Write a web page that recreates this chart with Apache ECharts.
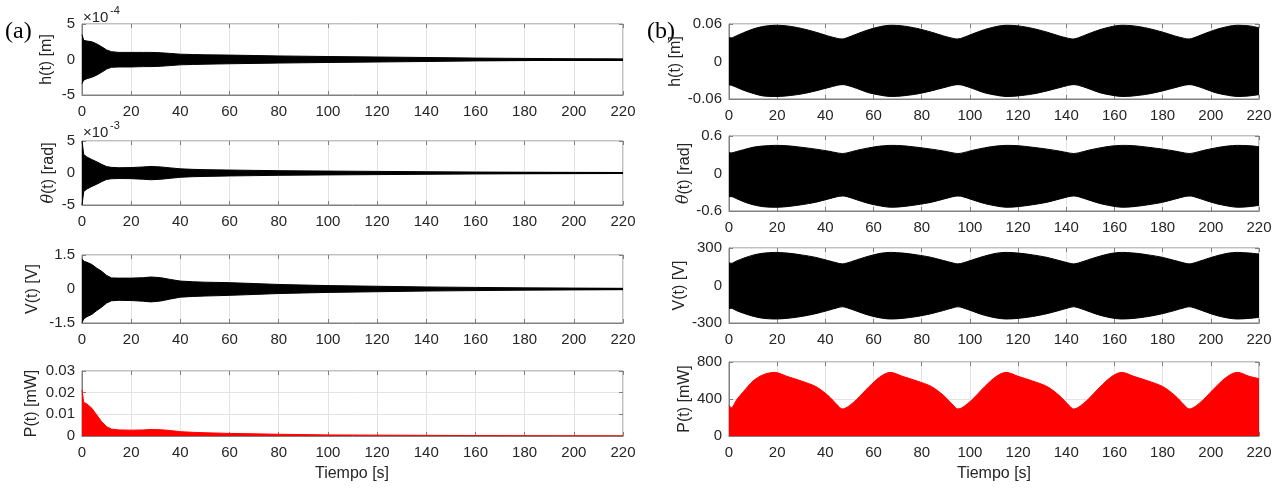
<!DOCTYPE html>
<html>
<head>
<meta charset="utf-8">
<title>Respuesta temporal (a) y (b)</title>
<script src="https://cdn.jsdelivr.net/npm/echarts@6/dist/echarts.min.js"></script>
<style>
    html, body { margin: 0; padding: 0; background: #fff; }
    #chart { width: 1286px; height: 488px; }
</style>
</head>
<body>
<div id="chart"></div>
<script>
// ticks del eje de tiempo [s]
const xTicks = [0, 20, 40, 60, 80, 100, 120, 140, 160, 180, 200, 220]

// ticks de cada eje y
const hTicksA = [-5, 0, 5]          // x1e-4 m
const thTicksA = [-5, 0, 5]         // x1e-3 rad
const vTicksA = [-1.5, 0, 1.5]
const pTicksA = [0, 0.01, 0.02, 0.03]
const hTicksB = [-0.06, 0, 0.06]
const thTicksB = [-0.6, 0, 0.6]
const vTicksB = [-300, 0, 300]
const pTicksB = [0, 400, 800]

// (a) envolventes
const tA = [0, 0.4, 0.7, 1, 2, 4, 6, 8, 10, 12, 15, 20, 25, 28, 32, 36, 40, 45, 50, 60, 70, 80, 100, 120, 140, 160, 180, 200, 220]
const hUpA = [3.5, 3.4, 2.7, 2.65, 2.6, 2.5, 2.2, 1.8, 1.35, 1.1, 1.0, 1.0, 1.0, 1.0, 0.95, 0.85, 0.75, 0.7, 0.66, 0.62, 0.56, 0.5, 0.42, 0.35, 0.28, 0.2, 0.15, 0.11, 0.09]
const hLoA = [-3.4, -3.3, -2.9, -2.8, -2.7, -2.5, -2.2, -1.8, -1.35, -1.1, -1.05, -1.05, -1.0, -1.0, -0.95, -0.85, -0.75, -0.7, -0.66, -0.6, -0.55, -0.5, -0.42, -0.35, -0.28, -0.2, -0.15, -0.11, -0.09]
const thUpA = [5.0, 4.8, 2.9, 2.7, 2.5, 2.1, 1.75, 1.35, 1.0, 0.88, 0.82, 0.85, 0.95, 1.02, 0.95, 0.8, 0.65, 0.57, 0.52, 0.46, 0.41, 0.36, 0.3, 0.25, 0.2, 0.15, 0.12, 0.1, 0.08]
const thLoA = [-5.0, -4.8, -2.9, -2.7, -2.5, -2.1, -1.75, -1.35, -1.0, -0.9, -0.86, -0.88, -0.98, -1.05, -0.98, -0.82, -0.67, -0.58, -0.53, -0.46, -0.41, -0.36, -0.3, -0.25, -0.2, -0.15, -0.12, -0.1, -0.08]
const vUpA = [1.32, 1.3, 1.25, 1.21, 1.18, 1.08, 0.92, 0.78, 0.6, 0.49, 0.48, 0.48, 0.5, 0.53, 0.5, 0.42, 0.35, 0.32, 0.3, 0.28, 0.24, 0.2, 0.15, 0.12, 0.09, 0.07, 0.05, 0.04, 0.03]
const vLoA = [-1.49, -1.45, -1.32, -1.28, -1.22, -1.12, -0.95, -0.8, -0.62, -0.52, -0.5, -0.51, -0.54, -0.57, -0.53, -0.44, -0.36, -0.33, -0.31, -0.28, -0.24, -0.2, -0.15, -0.12, -0.09, -0.07, -0.05, -0.04, -0.03]
const pA = [0.0212, 0.021, 0.0155, 0.015, 0.0148, 0.0128, 0.0097, 0.0066, 0.0043, 0.0032, 0.0028, 0.0027, 0.0028, 0.003, 0.0029, 0.0025, 0.002, 0.0017, 0.0015, 0.0012, 0.001, 0.0008, 0.0005, 0.0004, 0.0003, 0.0002, 0.00015, 0.0001, 0.0001]

// (b) envolventes
const tB = [0, 1, 3, 6, 10, 14,
    19, 24, 30, 36, 41, 45, 47, 49, 53, 58, 63,
    67, 72, 78, 84, 89, 93, 95, 97, 101, 106, 111,
    115, 120, 126, 132, 137, 141, 143, 145, 149, 154, 159,
    163, 168, 174, 180, 185, 189, 191, 193, 197, 202, 207,
    211, 216, 220]
const hUpB = [0.038, 0.038, 0.041, 0.046, 0.052, 0.056,
    0.058, 0.057, 0.053, 0.047, 0.041, 0.037, 0.036, 0.038, 0.044, 0.051, 0.056,
    0.058, 0.057, 0.053, 0.047, 0.041, 0.037, 0.036, 0.038, 0.044, 0.051, 0.056,
    0.058, 0.057, 0.053, 0.047, 0.041, 0.037, 0.036, 0.038, 0.044, 0.051, 0.056,
    0.058, 0.057, 0.053, 0.047, 0.041, 0.037, 0.036, 0.038, 0.044, 0.051, 0.056,
    0.058, 0.057, 0.054]
const hLoB = [-0.0375, -0.038, -0.041, -0.046, -0.051, -0.055,
    -0.056, -0.055, -0.052, -0.047, -0.042, -0.038, -0.037, -0.038, -0.043, -0.05, -0.054,
    -0.056, -0.055, -0.052, -0.047, -0.042, -0.038, -0.037, -0.038, -0.043, -0.05, -0.054,
    -0.056, -0.055, -0.052, -0.047, -0.042, -0.038, -0.037, -0.038, -0.043, -0.05, -0.054,
    -0.056, -0.055, -0.052, -0.047, -0.042, -0.038, -0.037, -0.038, -0.043, -0.05, -0.054,
    -0.056, -0.055, -0.053]
const thUpB = [0.335, 0.33, 0.35, 0.38, 0.42, 0.44,
    0.45, 0.445, 0.42, 0.39, 0.36, 0.33, 0.32, 0.33, 0.37, 0.41, 0.44,
    0.45, 0.445, 0.42, 0.39, 0.36, 0.33, 0.32, 0.33, 0.37, 0.41, 0.44,
    0.45, 0.445, 0.42, 0.39, 0.36, 0.33, 0.32, 0.33, 0.37, 0.41, 0.44,
    0.45, 0.445, 0.42, 0.39, 0.36, 0.33, 0.32, 0.33, 0.37, 0.41, 0.44,
    0.45, 0.445, 0.43]
const thLoB = [-0.37, -0.37, -0.4, -0.45, -0.5, -0.53,
    -0.54, -0.53, -0.5, -0.46, -0.41, -0.37, -0.36, -0.37, -0.42, -0.48, -0.52,
    -0.54, -0.53, -0.5, -0.46, -0.41, -0.37, -0.36, -0.37, -0.42, -0.48, -0.52,
    -0.54, -0.53, -0.5, -0.46, -0.41, -0.37, -0.36, -0.37, -0.42, -0.48, -0.52,
    -0.54, -0.53, -0.5, -0.46, -0.41, -0.37, -0.36, -0.37, -0.42, -0.48, -0.52,
    -0.54, -0.53, -0.51]
const vUpB = [180, 178, 195, 218, 243, 258,
    265, 260, 245, 225, 200, 180, 173, 180, 205, 235, 258,
    265, 260, 245, 225, 200, 180, 173, 180, 205, 235, 258,
    265, 260, 245, 225, 200, 180, 173, 180, 205, 235, 258,
    265, 260, 245, 225, 200, 180, 173, 180, 205, 235, 258,
    265, 260, 252]
const vLoB = [-185, -183, -200, -222, -246, -262,
    -268, -263, -248, -225, -200, -178, -170, -178, -205, -238, -260,
    -268, -263, -248, -225, -200, -178, -170, -178, -205, -238, -260,
    -268, -263, -248, -225, -200, -178, -170, -178, -205, -238, -260,
    -268, -263, -248, -225, -200, -178, -170, -178, -205, -238, -260,
    -268, -263, -255]
const pB = [330, 305, 385, 480, 595, 660,
    688, 645, 595, 535, 440, 335, 292, 310, 395, 530, 645,
    688, 645, 595, 535, 440, 335, 292, 310, 395, 530, 645,
    688, 645, 595, 535, 440, 335, 292, 310, 395, 530, 645,
    688, 645, 595, 535, 440, 335, 292, 310, 395, 530, 645,
    688, 645, 620]

const FONT = 'Liberation Sans, Arial, sans-serif'
const LINE = '#808080'
const TXT = '#262626'
const GRIDC = '#e3e3e3'

// posicion de cada panel en la pagina
const panels = [
    { left: 82, top: 24, width: 541, height: 71, ticks: hTicksA, name: 'h(t) [m]', gap: 27 },
    { left: 82, top: 141, width: 541, height: 64, ticks: thTicksA, name: '{it|θ}(t) [rad]', gap: 25 },
    { left: 82, top: 255, width: 541, height: 68, ticks: vTicksA, name: 'V(t) [V]', gap: 41 },
    { left: 82, top: 371, width: 541, height: 65, ticks: pTicksA, name: 'P(t) [mW]', gap: 42 },
    { left: 729, top: 24, width: 530, height: 75, ticks: hTicksB, name: 'h(t) [m]', gap: 39 },
    { left: 729, top: 136, width: 530, height: 75, ticks: thTicksB, name: '{it|θ}(t) [rad]', gap: 32 },
    { left: 729, top: 248, width: 530, height: 75, ticks: vTicksB, name: 'V(t) [V]', gap: 39 },
    { left: 729, top: 362, width: 530, height: 74, ticks: pTicksB, name: 'P(t) [mW]', gap: 36 }
]

let grid = []
let xAxis = []
let yAxis = []
let series = []

panels.forEach((p, i) => {
    grid.push({ left: p.left, top: p.top, width: p.width, height: p.height,
        show: true, borderColor: LINE, borderWidth: 1, backgroundColor: 'transparent' })
    let tickStep = p.ticks[1] - p.ticks[0]
    let yMin = p.ticks[0]
    let yMax = p.ticks[p.ticks.length - 1]
    // eje inferior con etiquetas
    xAxis.push({
        type: 'value', gridIndex: i, min: xTicks[0], max: xTicks[xTicks.length - 1],
        interval: xTicks[1] - xTicks[0],
        axisLine: { show: true, onZero: false, lineStyle: { color: LINE } },
        axisTick: { show: true, inside: true, length: 4, lineStyle: { color: LINE } },
        axisLabel: { color: TXT, fontSize: 15, fontFamily: FONT, margin: 9 },
        splitLine: { show: true, lineStyle: { color: GRIDC, width: 1 } }
    })
    // eje superior, solo marcas
    xAxis.push({
        type: 'value', gridIndex: i, position: 'top', min: xTicks[0], max: xTicks[xTicks.length - 1],
        interval: xTicks[1] - xTicks[0],
        axisLine: { show: false, onZero: false },
        axisTick: { show: true, inside: true, length: 4, lineStyle: { color: LINE } },
        axisLabel: { show: false }, splitLine: { show: false }
    })
    yAxis.push({
        type: 'value', gridIndex: i, min: yMin, max: yMax, interval: tickStep,
        name: p.name, nameLocation: 'middle', nameRotate: 90, nameGap: p.gap,
        nameTextStyle: { color: TXT, fontSize: 16, fontFamily: FONT,
            rich: { it: { fontStyle: 'italic', fontSize: 16, fontFamily: 'DejaVu Serif', color: TXT } } },
        axisLine: { show: true, onZero: false, lineStyle: { color: LINE } },
        axisTick: { show: true, inside: true, length: 4, lineStyle: { color: LINE } },
        axisLabel: { color: TXT, fontSize: 15, fontFamily: FONT, margin: 7 },
        splitLine: { show: true, lineStyle: { color: GRIDC, width: 1 } }
    })
    // eje derecho, solo marcas
    yAxis.push({
        type: 'value', gridIndex: i, position: 'right', min: yMin, max: yMax, interval: tickStep,
        axisLine: { show: false, onZero: false },
        axisTick: { show: true, inside: true, length: 4, lineStyle: { color: LINE } },
        axisLabel: { show: false }, splitLine: { show: false }
    })
})

// banda negra: envolvente superior e inferior rellenas hasta 0
function band (i, t, up, lo, smooth) {
    let base = {
        type: 'line', xAxisIndex: 2 * i, yAxisIndex: 2 * i,
        showSymbol: false, symbol: 'none', silent: true, smooth: smooth,
        lineStyle: { color: '#000', width: 1 }, z: 3
    }
    series.push(Object.assign({}, base, {
        data: t.map((x, k) => [x, up[k]]),
        areaStyle: { color: '#000', opacity: 1 }
    }))
    series.push(Object.assign({}, base, {
        data: t.map((x, k) => [x, lo[k]]),
        areaStyle: { color: '#000', opacity: 1 },
        // linea en cero para tapar la costura entre los dos rellenos
        markLine: { silent: true, symbol: 'none', animation: false, label: { show: false },
            lineStyle: { color: '#000', width: 2, type: 'solid' }, data: [{ yAxis: 0 }] }
    }))
}

function power (i, t, p, smooth) {
    series.push({
        type: 'line', xAxisIndex: 2 * i, yAxisIndex: 2 * i, showSymbol: false, symbol: 'none', silent: true,
        smooth: smooth,
        data: t.map((x, k) => [x, p[k]]),
        lineStyle: { color: '#ff0000', width: 1 },
        areaStyle: { color: '#ff0000', opacity: 1 }, z: 3
    })
}

band(0, tA, hUpA, hLoA, false)
band(1, tA, thUpA, thLoA, false)
band(2, tA, vUpA, vLoA, false)
power(3, tA, pA, false)
band(4, tB, hUpB, hLoB, 0.3)
band(5, tB, thUpB, thLoB, 0.3)
band(6, tB, vUpB, vLoB, 0.3)
power(7, tB, pB, 0.3)

const serif = 'Liberation Serif, Times New Roman, serif'
let graphic = [
    { type: 'text', x: 5, y: 32, silent: true,
        style: { text: '(a)', fill: '#000', fontSize: 24, fontFamily: serif, textVerticalAlign: 'middle' } },
    { type: 'text', x: 647, y: 32, silent: true,
        style: { text: '(b)', fill: '#000', fontSize: 24, fontFamily: serif, textVerticalAlign: 'middle' } },
    { type: 'text', x: 83, y: 18, silent: true, style: { text: '×10', fill: TXT, fontSize: 15, fontFamily: FONT, textVerticalAlign: 'middle' } },
    { type: 'text', x: 110, y: 11, silent: true, style: { text: '-4', fill: TXT, fontSize: 11, fontFamily: FONT, textVerticalAlign: 'middle' } },
    { type: 'text', x: 83, y: 133, silent: true, style: { text: '×10', fill: TXT, fontSize: 15, fontFamily: FONT, textVerticalAlign: 'middle' } },
    { type: 'text', x: 110, y: 126, silent: true, style: { text: '-3', fill: TXT, fontSize: 11, fontFamily: FONT, textVerticalAlign: 'middle' } },
    { type: 'text', x: 352, y: 474, silent: true, style: { text: 'Tiempo [s]', fill: TXT, fontSize: 16, fontFamily: FONT, textAlign: 'center', textVerticalAlign: 'middle' } },
    { type: 'text', x: 994, y: 474, silent: true, style: { text: 'Tiempo [s]', fill: TXT, fontSize: 16, fontFamily: FONT, textAlign: 'center', textVerticalAlign: 'middle' } }
]

let myChart = echarts.init(document.getElementById('chart'), null, { renderer: 'canvas' })
myChart.setOption({
    animation: false,
    backgroundColor: '#fff',
    grid: grid,
    xAxis: xAxis,
    yAxis: yAxis,
    series: series,
    graphic: graphic
})
window.addEventListener('resize', function () {
    myChart.resize()
})
</script>
</body>
</html>
